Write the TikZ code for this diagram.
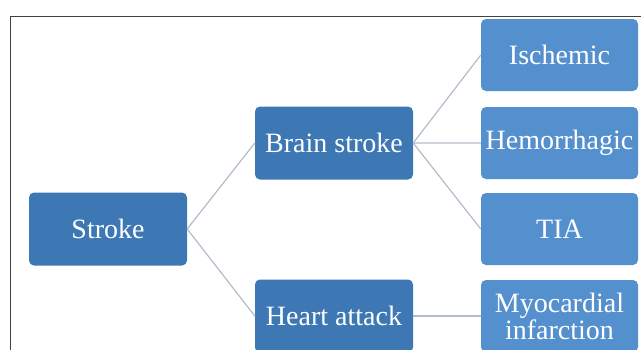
\documentclass[tikz,border=0pt]{standalone}
\usepackage{fontspec}
\setmainfont{Liberation Serif}
\definecolor{darkbox}{HTML}{3D78B4}
\definecolor{lightbox}{HTML}{5590CE}
\definecolor{linkgray}{HTML}{B2BCC8}
\tikzstyle{darkbox}=[rectangle,rounded corners=5pt,fill=darkbox,text=white,
                     minimum width=158pt,minimum height=73pt,inner sep=0pt,
                     font=\fontsize{28}{27}\selectfont]
\tikzstyle{lightbox}=[rectangle,rounded corners=5pt,fill=lightbox,text=white,
                      minimum width=157pt,minimum height=72pt,inner sep=0pt,
                      align=center,font=\fontsize{28}{27}\selectfont]
\tikzstyle{link}=[draw=linkgray,line width=1.2pt]

\begin{document}
\begin{tikzpicture}[x=1pt,y=-1pt]
    \useasboundingbox (0,0) rectangle (641,349);
    \clip (0,0) rectangle (641,349);
    \draw[black!75,line width=0.8pt] (10,380) -- (10,16) -- (660,16);
    \node (stroke) at (108,229) [darkbox]{Stroke};
    \node (brain) at (334,143) [darkbox]{Brain stroke};
    \node (heart) at (334,316) [darkbox]{Heart attack};
    \node (isch) at (559.5,55) [lightbox]{Ischemic};
    \node (hemo) at (559.5,143) [lightbox]{Hemorrhagic};
    \node (tia) at (559.5,229) [lightbox]{TIA};
    \node (myo) at (559.5,316) [lightbox]{Myocardial\\infarction};
    \draw[link] (stroke.east) -- (brain.west) (stroke.east) -- (heart.west);
    \draw[link] (brain.east) -- (isch.west) (brain.east) -- (hemo.west)
                (brain.east) -- (tia.west);
    \draw[link] (heart.east) -- (myo.west);
  \end{tikzpicture}
\end{document}
